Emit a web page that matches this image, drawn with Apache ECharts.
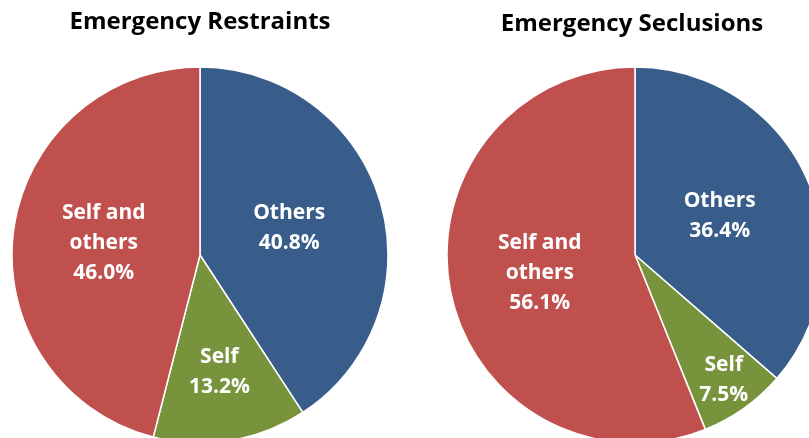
<!DOCTYPE html>
<html>
<head>
<meta charset="utf-8">
<script src="https://cdn.jsdelivr.net/npm/echarts@6/dist/echarts.min.js"></script>
<style>
  html, body { margin: 0; padding: 0; background: #fff; }
  #chart { width: 809px; height: 438px; }
</style>
</head>
<body>
<div id="chart"></div>
<script>
const categories = ['Others', 'Self', 'Self and\nothers']
const restraintValues = [40.8, 13.2, 46.0]
const seclusionValues = [36.4, 7.5, 56.1]
const titles = ['Emergency Restraints', 'Emergency Seclusions']
const colors = ['#385D8A', '#77933C', '#C0504D']

// how far (px) to push each label outward from the default inside spot
const labelShift = [
  [-4, 22, 0],
  [-4, 56, 0]
]

const chart = echarts.init(document.getElementById('chart'))

function midAngle(values, idx) {
  const total = values.reduce((a, b) => a + b, 0)
  let cum = 0
  for (let i = 0; i < idx; i++) cum += values[i]
  return 2 * Math.PI * (cum + values[idx] / 2) / total
}

function makeSeries(values, center, si) {
  return {
    type: 'pie',
    center: center,
    radius: 188,
    startAngle: 90,
    clockwise: true,
    animation: false,
    itemStyle: { borderColor: '#fff', borderWidth: 1.5 },
    label: {
      show: true,
      position: 'inside',
      color: '#fff',
      fontFamily: 'Open Sans',
      fontWeight: 'bold',
      fontSize: 21,
      lineHeight: 30,
      formatter: (p) => p.name + '\n' + p.value.toFixed(1) + '%'
    },
    labelLayout: (p) => {
      const a = midAngle(values, p.dataIndex)
      const s = labelShift[si][p.dataIndex]
      return { dx: s * Math.sin(a), dy: -s * Math.cos(a) }
    },
    emphasis: { disabled: true },
    data: categories.map((c, i) => ({
      name: c,
      value: values[i],
      itemStyle: { color: colors[i] }
    }))
  }
}

const titleStyle = { fontFamily: 'Open Sans', fontWeight: 'bold', fontSize: 24, color: '#000' }

const option = {
  title: [
    { text: titles[0], left: 195, top: 5, textAlign: 'center', textStyle: titleStyle },
    { text: titles[1], left: 627, top: 7, textAlign: 'center', textStyle: titleStyle }
  ],
  series: [
    makeSeries(restraintValues, [200, 255], 0),
    makeSeries(seclusionValues, [635, 255], 1)
  ]
}

chart.setOption(option)
</script>
</body>
</html>
